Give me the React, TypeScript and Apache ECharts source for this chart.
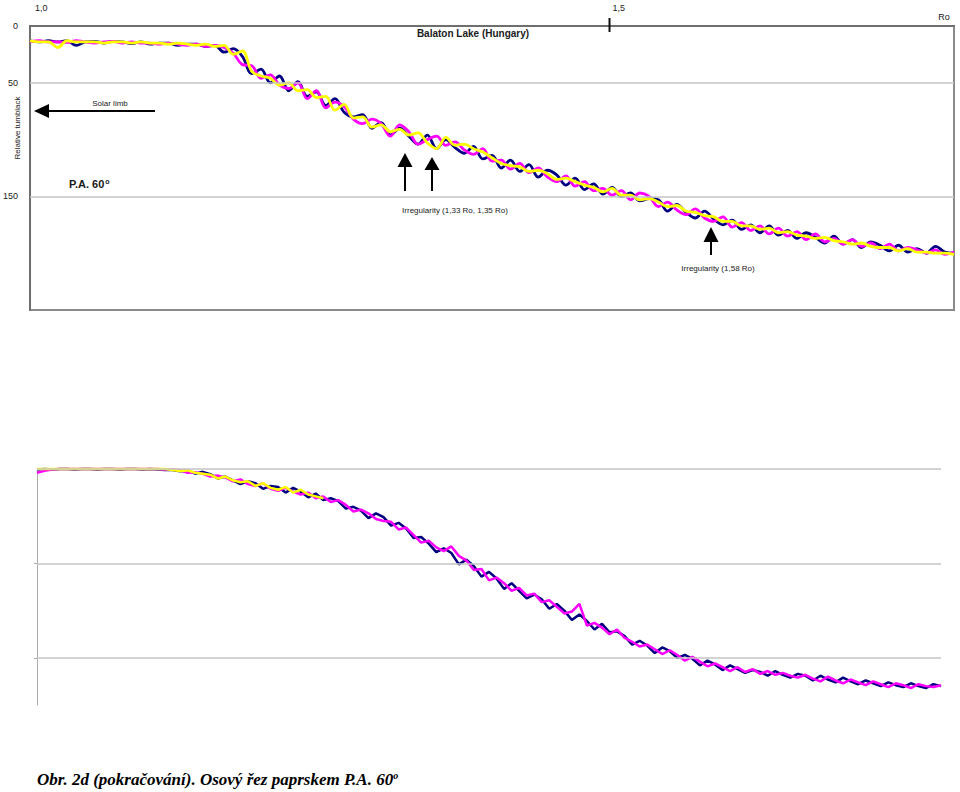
import React, { useEffect, useRef } from "react";
import * as echarts from "echarts";

// ---------- top panel (Balaton Lake) : radius in Ro, relative tumblack ----------
const TOP_R_START = 1.0;
const TOP_R_STEP = 0.008;

const NAVY_TOP = [
  13, 14, 13, 14, 13, 17, 14, 13.5, 15, 13.5,
  14, 15.5, 14, 16, 15, 15, 17, 16, 16, 18,
  17, 23, 20, 27, 42, 38, 50, 44, 57, 49,
  62, 58, 70, 64, 76, 80, 78, 90, 85, 96,
  90, 97, 104, 96, 108, 100, 107, 112, 106, 117,
  114, 125, 118, 128, 122, 133, 127, 131, 140, 134,
  144, 139, 148, 142, 150, 147, 154, 152, 153, 163,
  157, 164, 169, 163, 170, 175, 171, 179, 175, 182,
  176, 184, 180, 187, 182, 186, 191, 185, 192, 188,
  195, 190, 193, 198, 193, 199, 196, 200, 194, 199,
  200,
];

const MAGENTA_TOP = [
  14, 13, 14, 14, 14.5, 13, 14, 15, 14, 13.5,
  15, 14, 15, 15, 16, 15, 16, 17, 16, 18,
  17, 19, 24, 34, 35, 46, 43, 52, 55, 50,
  64, 57, 72, 67, 71, 82, 86, 82, 86, 97,
  87, 93, 104, 100, 97, 105, 102, 109, 113, 108,
  119, 118, 126, 121, 129, 125, 133, 137, 132, 141,
  137, 145, 143, 149, 145, 153, 147, 150, 159, 155,
  162, 166, 161, 169, 172, 168, 177, 173, 180, 176,
  183, 178, 185, 181, 188, 183, 190, 187, 192, 188,
  194, 191, 196, 192, 198, 195, 197, 200, 197, 201,
  199,
];

const YELLOW_TOP = [
  13, 14, 14, 19, 13, 14, 14, 14, 15, 14,
  14, 15, 14, 15, 15, 16, 15, 16, 17, 16,
  18, 17, 25, 22, 40, 44, 46, 52, 50, 57,
  56, 63, 62, 74, 69, 81, 80, 89, 87, 93,
  91, 96, 94, 103, 108, 98, 105, 104, 108, 111,
  116, 121, 123, 124, 128, 127, 130, 135, 134, 137,
  140, 142, 146, 143, 149, 149, 153, 152, 155, 159,
  158, 163, 164, 167, 168, 172, 172, 176, 176, 179,
  178, 182, 181, 184, 185, 187, 186, 189, 190, 192,
  191, 194, 195, 195, 198, 196, 199, 199, 200, 200,
  201,
];

const TOP_X_LABELS = [1.0, 1.5];
const TOP_X_MARK = 1.5;
const TOP_Y_LABELS = [0, 50, 150];
const TOP_GRIDLINES = [50, 150];

// ---------- bottom panel : sample index, relative tumblack ----------
const NAVY_BOT = [
  0.5, 0, 0.5, 0, 0, 0.5, 0, 0, 0.5, 0,
  0, 0.5, 0, 0, 0.5, 0, 0.5, 1,
  1, 2.5, 1.5, 5, 3, 5.5, 10, 8, 12, 16,
  13, 15, 21, 18, 19, 25, 20, 24, 30, 26,
  33, 31, 34, 42, 40, 44, 52, 47, 51, 60,
  57, 63, 73, 72, 79, 88, 84, 89, 101, 96,
  103, 114, 109, 116, 127, 121, 129, 137, 133, 138,
  148, 143, 150, 160, 154, 161, 170, 164, 173, 172,
  177, 186, 182, 187, 195, 189, 193, 200, 197, 201,
  208, 203, 207, 213, 208, 212, 216, 213, 215, 219,
  214, 218, 221, 217, 219, 224, 219, 223, 226, 221,
  225, 228, 224, 227, 230, 226, 229, 231, 227, 230,
  232, 228, 230,
];

const MAGENTA_BOT = [
  4, 2, 0.5, 0, 0, 0, 0, 0, 0, 0,
  0, 0, 0, 0, 0, 0, 0, 0.5,
  0.5, 1.5, 4, 3.5, 5, 8, 7, 9, 13, 11,
  16, 18, 15, 21, 23, 20, 24, 27, 25, 31,
  29, 35, 33, 38, 45, 43, 47, 53, 55, 56,
  64, 62, 70, 78, 76, 83, 87, 82, 92, 97,
  107, 106, 118, 115, 121, 129, 126, 134, 132, 141,
  139, 146, 153, 151, 143, 166, 163, 168, 175, 170,
  179, 183, 188, 186, 191, 196, 192, 197, 203, 199,
  204, 209, 206, 210, 214, 210, 215, 212, 217, 214,
  218, 216, 219, 221, 218, 222, 225, 220, 224, 227,
  223, 226, 229, 225, 228, 231, 227, 229, 232, 228,
  230, 231, 229,
];

const YELLOW_BOT = [
  0, 0, 0, 0, 0, 0, 0, 0, 0, 0,
  0, 0, 0, 0, 0, 0, 0, 0, 1, 2,
  1.5, 4, 5, 6, 10, 8, 12, 14, 13, 18,
  15, 20, 22, 19, 25, 22, 27, 29, 31,
];

const BOTTOM_GRIDLINES = [0, 100, 200];

const NAVY = "#000080";
const MAGENTA = "#FF00FF";
const YELLOW = "#FFFF00";
const SANS = "Liberation Sans";

export default function App() {
  const ref = useRef<HTMLDivElement>(null);

  useEffect(() => {
    const chart = echarts.init(ref.current!, null, { renderer: "svg" });

    const topPairs = (arr: number[]) =>
      arr.map((v, i) => [+(TOP_R_START + i * TOP_R_STEP).toFixed(3), v]);
    const botPairs = (arr: number[]) => arr.map((v, i) => [i, v]);

    const gridLineSeries = (idx: number, values: number[]) => ({
      type: "line",
      xAxisIndex: idx,
      yAxisIndex: idx,
      data: [],
      silent: true,
      z: 1,
      markLine: {
        silent: true,
        symbol: ["none", "none"],
        label: { show: false },
        lineStyle: { color: "#c4c4c4", width: 1.5, type: "solid" },
        data: values.map((v) => ({ yAxis: v })),
      },
    });

    const lineSeries = (
      name: string,
      idx: number,
      data: number[][],
      color: string,
      width: number,
      smooth: number | boolean
    ) => ({
      name,
      type: "line",
      xAxisIndex: idx,
      yAxisIndex: idx,
      data,
      showSymbol: false,
      symbol: "none",
      smooth,
      clip: false,
      z: 3,
      lineStyle: { color, width },
      itemStyle: { color },
    });

    chart.setOption({
      animation: false,
      backgroundColor: "#ffffff",
      textStyle: { fontFamily: SANS },
      grid: [
        {
          left: 28,
          top: 26,
          width: 926,
          height: 284,
          show: true,
          borderColor: "#8a8a8a",
          borderWidth: 2,
          backgroundColor: "transparent",
        },
        { left: 37, top: 469, width: 904, height: 236 },
      ],
      xAxis: [
        {
          type: "value",
          gridIndex: 0,
          position: "top",
          min: 1.0,
          max: 1.8,
          interval: 0.1,
          axisLine: { show: true, lineStyle: { color: "#6e6e6e", width: 2 } },
          axisTick: { show: false },
          splitLine: { show: false },
          axisLabel: {
            customValues: TOP_X_LABELS,
            formatter: (v: number) => v.toFixed(1).replace(".", ","),
            align: "left",
            padding: [0, 0, 0, 5],
            margin: 14,
            fontSize: 9,
            color: "#222",
            fontFamily: SANS,
          },
        },
        {
          type: "value",
          gridIndex: 1,
          min: 0,
          max: NAVY_BOT.length - 1,
          show: false,
        },
      ],
      yAxis: [
        {
          type: "value",
          gridIndex: 0,
          inverse: true,
          min: 0,
          max: 250,
          interval: 50,
          axisLine: { show: true, lineStyle: { color: "#6e6e6e", width: 2 } },
          axisTick: { show: false },
          splitLine: { show: false },
          axisLabel: {
            customValues: TOP_Y_LABELS,
            margin: 12,
            fontSize: 9,
            color: "#222",
            fontFamily: SANS,
          },
        },
        {
          type: "value",
          gridIndex: 1,
          inverse: true,
          min: 0,
          max: 250,
          interval: 50,
          axisLine: { show: true, lineStyle: { color: "#ababab", width: 1 } },
          axisTick: {
            show: true,
            customValues: [100, 200],
            length: 3,
            lineStyle: { color: "#ababab" },
          },
          axisLabel: { show: false },
          splitLine: { show: false },
        },
      ],
      series: [
        gridLineSeries(0, TOP_GRIDLINES),
        lineSeries("navy top", 0, topPairs(NAVY_TOP), NAVY, 2.8, 0.35),
        lineSeries("magenta top", 0, topPairs(MAGENTA_TOP), MAGENTA, 2.8, 0.35),
        lineSeries("yellow top", 0, topPairs(YELLOW_TOP), YELLOW, 2.8, 0.35),
        gridLineSeries(1, BOTTOM_GRIDLINES),
        lineSeries("navy bottom", 1, botPairs(NAVY_BOT), NAVY, 2.5, false),
        lineSeries("magenta bottom", 1, botPairs(MAGENTA_BOT), MAGENTA, 2.5, false),
        lineSeries("yellow bottom", 1, botPairs(YELLOW_BOT), YELLOW, 2.5, false),
      ],
    });

    const markX = (chart.convertToPixel({ xAxisIndex: 0, yAxisIndex: 0 }, [TOP_X_MARK, 0]) as number[])[0];

    const txt = (
      text: string,
      x: number,
      y: number,
      size: number,
      align: string,
      extra: Record<string, unknown> = {}
    ) => ({
      type: "text",
      x,
      y,
      z: 10,
      style: {
        text,
        fontSize: size,
        fontFamily: SANS,
        fill: "#1a1a1a",
        textAlign: align,
        textVerticalAlign: "middle",
        ...extra,
      },
    });

    const upArrow = (x: number, top: number, base: number, bottom: number) => [
      {
        type: "polygon",
        z: 10,
        shape: { points: [[x, top], [x - 7.5, base], [x + 7.5, base]] },
        style: { fill: "#000" },
      },
      {
        type: "line",
        z: 10,
        shape: { x1: x, y1: base, x2: x, y2: bottom },
        style: { stroke: "#000", lineWidth: 2 },
      },
    ];

    chart.setOption({
      graphic: [
        txt("Balaton Lake (Hungary)", 473, 33, 10, "center", { fontWeight: "bold" }),
        txt("Ro", 944, 17, 9, "center"),
        {
          type: "line",
          z: 10,
          shape: { x1: markX + 2, y1: 18, x2: markX + 2, y2: 32 },
          style: { stroke: "#111", lineWidth: 2 },
        },
        {
          type: "text",
          x: 17,
          y: 128,
          rotation: Math.PI / 2,
          z: 10,
          style: {
            text: "Relative tumblack",
            fontSize: 8,
            fontFamily: SANS,
            fill: "#1a1a1a",
            textAlign: "center",
            textVerticalAlign: "middle",
          },
        },
        txt("Solar limb", 110, 103, 8, "center"),
        {
          type: "line",
          z: 10,
          shape: { x1: 48, y1: 111, x2: 155, y2: 111 },
          style: { stroke: "#000", lineWidth: 2 },
        },
        {
          type: "polygon",
          z: 10,
          shape: { points: [[34, 111], [49, 104], [49, 118]] },
          style: { fill: "#000" },
        },
        txt("P.A. 60{sup|o}", 69, 184, 11, "left", {
          fontWeight: "bold",
          rich: { sup: { fontSize: 7, fontWeight: "bold", fontFamily: SANS, verticalAlign: "top", padding: [0, 0, 6, 1] } },
        }),
        ...upArrow(405, 153, 167, 191),
        ...upArrow(432, 157, 170, 191),
        txt("Irregularity (1,33 Ro, 1,35 Ro)", 455, 210, 8, "center"),
        ...upArrow(711, 227, 242, 255),
        txt("Irregularity (1,58 Ro)", 718, 268, 8, "center"),
        {
          type: "text",
          x: 37,
          y: 779,
          z: 10,
          style: {
            text: "Obr. 2d (pokračování). Osový řez paprskem P.A. 60{sup|o}",
            fontSize: 17,
            fontFamily: "Liberation Serif",
            fontWeight: "bold",
            fontStyle: "italic",
            fill: "#000",
            textAlign: "left",
            textVerticalAlign: "middle",
            rich: {
              sup: {
                fontSize: 10,
                fontFamily: "Liberation Serif",
                fontWeight: "bold",
                fontStyle: "italic",
                verticalAlign: "top",
                padding: [0, 0, 8, 0],
              },
            },
          },
        },
      ],
    });

    return () => chart.dispose();
  }, []);

  return (
    <div
      ref={ref}
      style={{ position: "absolute", left: 0, top: 0, width: 960, height: 792, background: "#fff" }}
    />
  );
}
